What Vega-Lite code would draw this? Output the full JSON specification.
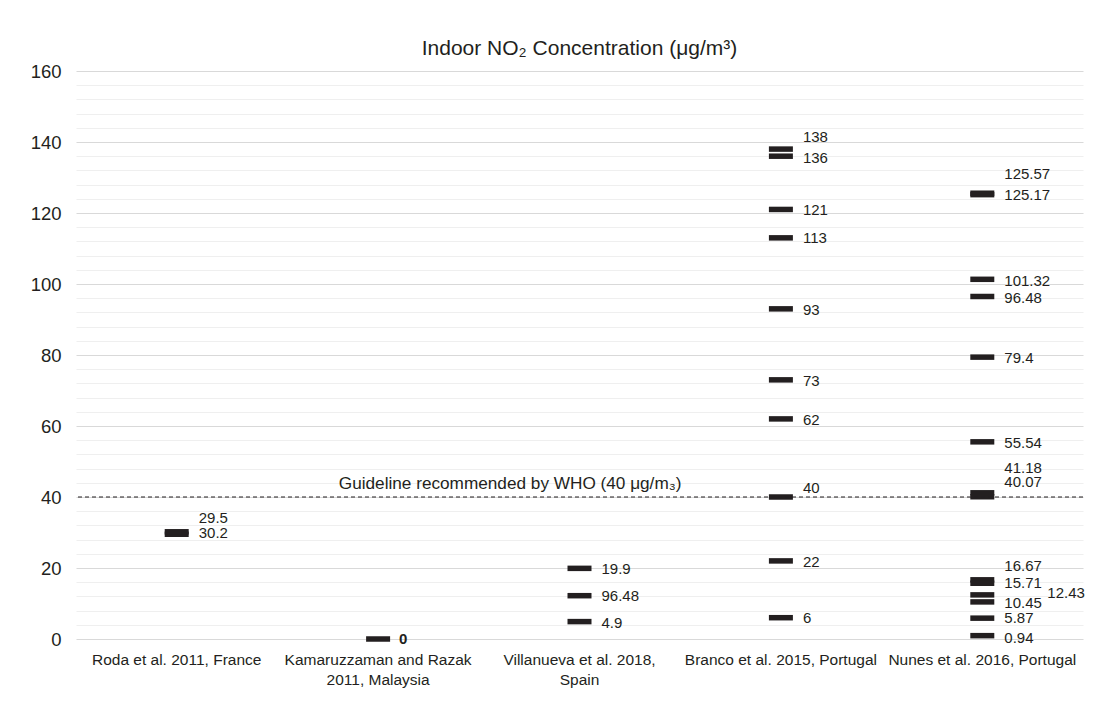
{
  "$schema": "https://vega.github.io/schema/vega-lite/v6.json",
  "width": 1007,
  "height": 568,
  "autosize": {"type": "none"},
  "padding": {"left": 76, "top": 71, "right": 13, "bottom": 67},
  "background": "white",
  "config": {
    "view": {"stroke": null},
    "font": "Liberation Sans",
    "text": {"font": "Liberation Sans"}
  },
  "title": {
    "text": "Indoor NO₂ Concentration (μg/m³)",
    "fontSize": 21,
    "fontWeight": "normal",
    "font": "Liberation Sans",
    "color": "#231f20",
    "frame": "group",
    "anchor": "middle",
    "offset": 3
  },
  "datasets": {
    "bars": [
      {"study": "Roda et al. 2011, France", "value": 29.5},
      {"study": "Roda et al. 2011, France", "value": 30.2},
      {"study": "Kamaruzzaman and Razak 2011, Malaysia", "value": 0},
      {"study": "Villanueva et al. 2018, Spain", "value": 19.9},
      {"study": "Villanueva et al. 2018, Spain", "value": 12.2},
      {"study": "Villanueva et al. 2018, Spain", "value": 4.9},
      {"study": "Branco et al. 2015, Portugal", "value": 138},
      {"study": "Branco et al. 2015, Portugal", "value": 136},
      {"study": "Branco et al. 2015, Portugal", "value": 121},
      {"study": "Branco et al. 2015, Portugal", "value": 113},
      {"study": "Branco et al. 2015, Portugal", "value": 93},
      {"study": "Branco et al. 2015, Portugal", "value": 73},
      {"study": "Branco et al. 2015, Portugal", "value": 62},
      {"study": "Branco et al. 2015, Portugal", "value": 40},
      {"study": "Branco et al. 2015, Portugal", "value": 22},
      {"study": "Branco et al. 2015, Portugal", "value": 6},
      {"study": "Nunes et al. 2016, Portugal", "value": 125.57},
      {"study": "Nunes et al. 2016, Portugal", "value": 125.17},
      {"study": "Nunes et al. 2016, Portugal", "value": 101.32},
      {"study": "Nunes et al. 2016, Portugal", "value": 96.48},
      {"study": "Nunes et al. 2016, Portugal", "value": 79.4},
      {"study": "Nunes et al. 2016, Portugal", "value": 55.54},
      {"study": "Nunes et al. 2016, Portugal", "value": 41.18},
      {"study": "Nunes et al. 2016, Portugal", "value": 40.07},
      {"study": "Nunes et al. 2016, Portugal", "value": 16.67},
      {"study": "Nunes et al. 2016, Portugal", "value": 15.71},
      {"study": "Nunes et al. 2016, Portugal", "value": 12.43},
      {"study": "Nunes et al. 2016, Portugal", "value": 10.45},
      {"study": "Nunes et al. 2016, Portugal", "value": 5.87},
      {"study": "Nunes et al. 2016, Portugal", "value": 0.94}
    ],
    "labels": [
      {"study": "Roda et al. 2011, France", "text": "29.5", "at": 34.2},
      {"study": "Roda et al. 2011, France", "text": "30.2", "at": 29.9},
      {"study": "Kamaruzzaman and Razak 2011, Malaysia", "text": "0", "at": 0},
      {"study": "Villanueva et al. 2018, Spain", "text": "19.9", "at": 19.6},
      {"study": "Villanueva et al. 2018, Spain", "text": "96.48", "at": 12.1},
      {"study": "Villanueva et al. 2018, Spain", "text": "4.9", "at": 4.6},
      {"study": "Branco et al. 2015, Portugal", "text": "138", "at": 141.3},
      {"study": "Branco et al. 2015, Portugal", "text": "136", "at": 135.5},
      {"study": "Branco et al. 2015, Portugal", "text": "121", "at": 120.8},
      {"study": "Branco et al. 2015, Portugal", "text": "113", "at": 112.9},
      {"study": "Branco et al. 2015, Portugal", "text": "93", "at": 92.7},
      {"study": "Branco et al. 2015, Portugal", "text": "73", "at": 72.8},
      {"study": "Branco et al. 2015, Portugal", "text": "62", "at": 61.7},
      {"study": "Branco et al. 2015, Portugal", "text": "40", "at": 42.6},
      {"study": "Branco et al. 2015, Portugal", "text": "22", "at": 21.8},
      {"study": "Branco et al. 2015, Portugal", "text": "6", "at": 5.8},
      {"study": "Nunes et al. 2016, Portugal", "text": "125.57", "at": 131.0},
      {"study": "Nunes et al. 2016, Portugal", "text": "125.17", "at": 125.0},
      {"study": "Nunes et al. 2016, Portugal", "text": "101.32", "at": 100.8},
      {"study": "Nunes et al. 2016, Portugal", "text": "96.48", "at": 96.0},
      {"study": "Nunes et al. 2016, Portugal", "text": "79.4", "at": 79.2},
      {"study": "Nunes et al. 2016, Portugal", "text": "55.54", "at": 55.3},
      {"study": "Nunes et al. 2016, Portugal", "text": "41.18", "at": 48.3},
      {"study": "Nunes et al. 2016, Portugal", "text": "40.07", "at": 44.1},
      {"study": "Nunes et al. 2016, Portugal", "text": "16.67", "at": 20.6},
      {"study": "Nunes et al. 2016, Portugal", "text": "15.71", "at": 15.7},
      {"study": "Nunes et al. 2016, Portugal", "text": "12.43", "at": 13.0},
      {"study": "Nunes et al. 2016, Portugal", "text": "10.45", "at": 10.2},
      {"study": "Nunes et al. 2016, Portugal", "text": "5.87", "at": 5.8},
      {"study": "Nunes et al. 2016, Portugal", "text": "0.94", "at": 0.4}
    ]
  },
  "layer": [
    {
      "data": {"name": "bars"},
      "mark": {"type": "tick", "size": 24, "thickness": 5.5, "color": "#231f20", "opacity": 1},
      "encoding": {
        "x": {
          "field": "study",
          "type": "nominal",
          "sort": null,
          "scale": {"domain": ["Roda et al. 2011, France", "Kamaruzzaman and Razak 2011, Malaysia", "Villanueva et al. 2018, Spain", "Branco et al. 2015, Portugal", "Nunes et al. 2016, Portugal"], "paddingInner": 0, "paddingOuter": 0},
          "axis": {
            "title": null,
            "labelAngle": 0,
            "ticks": false,
            "domain": false,
            "labelPadding": 13,
            "labelFontSize": 15.5,
            "labelFont": "Liberation Sans",
            "labelColor": "#231f20",
            "labelLineHeight": 20,
            "labelBaseline": "top",
            "labelLimit": 0,
            "labelExpr": "datum.value == 'Kamaruzzaman and Razak 2011, Malaysia' ? ['Kamaruzzaman and Razak', '2011, Malaysia'] : datum.value == 'Villanueva et al. 2018, Spain' ? ['Villanueva et al. 2018,', 'Spain'] : datum.value"
          }
        },
        "y": {
          "field": "value",
          "type": "quantitative",
          "scale": {"domain": [0, 160], "nice": false},
          "axis": {
            "title": null,
            "values": [0,4,8,12,16,20,24,28,32,36,40,44,48,52,56,60,64,68,72,76,80,84,88,92,96,100,104,108,112,116,120,124,128,132,136,140,144,148,152,156,160],
            "tickCount": 100,
            "labelOverlap": false,
            "labelExpr": "datum.value % 20 === 0 ? datum.label : ''",
            "ticks": false,
            "domain": false,
            "labelPadding": 15,
            "labelFontSize": 18.5,
            "labelFont": "Liberation Sans",
            "labelColor": "#231f20",
            "grid": true,
            "gridColor": {"condition": {"test": "datum.value % 20 === 0", "value": "#d9d9d9"}, "value": "#efefef"},
            "gridWidth": 1
          }
        }
      }
    },
    {
      "data": {"values": [{}]},
      "mark": {"type": "rule", "color": "#231f20", "strokeDash": [4, 3], "strokeWidth": 1},
      "encoding": {"y": {"datum": 40, "type": "quantitative"}}
    },
    {
      "data": {"values": [{}]},
      "mark": {"type": "text", "text": "Guideline recommended by WHO (40 μg/m₃)", "fontSize": 17.2, "color": "#231f20", "align": "center", "baseline": "alphabetic", "dx": 132, "dy": -8},
      "encoding": {
        "x": {"datum": "Kamaruzzaman and Razak 2011, Malaysia", "type": "nominal"},
        "y": {"datum": 40, "type": "quantitative"}
      }
    },
    {
      "data": {"name": "labels"},
      "transform": [{"filter": "datum.text !== '12.43' && datum.text !== '0'"}],
      "mark": {"type": "text", "align": "left", "baseline": "middle", "dx": 22, "fontSize": 15, "color": "#231f20"},
      "encoding": {
        "x": {"field": "study", "type": "nominal"},
        "y": {"field": "at", "type": "quantitative"},
        "text": {"field": "text"}
      }
    },
    {
      "data": {"name": "labels"},
      "transform": [{"filter": "datum.text === '12.43'"}],
      "mark": {"type": "text", "align": "left", "baseline": "middle", "dx": 65, "fontSize": 15, "color": "#231f20"},
      "encoding": {
        "x": {"field": "study", "type": "nominal"},
        "y": {"field": "at", "type": "quantitative"},
        "text": {"field": "text"}
      }
    },
    {
      "data": {"name": "labels"},
      "transform": [{"filter": "datum.text === '0'"}],
      "mark": {"type": "text", "align": "left", "baseline": "middle", "dx": 21, "fontSize": 15, "fontWeight": "bold", "color": "#231f20"},
      "encoding": {
        "x": {"field": "study", "type": "nominal"},
        "y": {"field": "at", "type": "quantitative"},
        "text": {"field": "text"}
      }
    }
  ]
}
